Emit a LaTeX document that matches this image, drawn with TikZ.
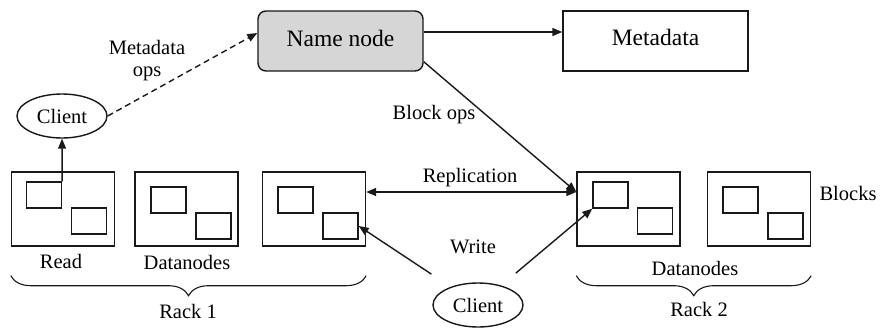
\documentclass[tikz,border=0pt]{standalone}
\usepackage{fontspec}
\setmainfont{Liberation Serif}
\usetikzlibrary{shapes.geometric,arrows.meta,decorations.pathreplacing}
\begin{document}
\begin{tikzpicture}[x=1pt,y=-1pt,
  line width=1.4pt,
  every node/.style={font=\fontsize{20.5}{22}\selectfont, text=black},
  bigbox/.style={draw=black!90, rectangle, minimum width=#1, minimum height=60pt, inner sep=0pt, font=\fontsize{23.5}{25}\selectfont},
  dnbox/.style={draw=black!90, rectangle, minimum width=103pt, minimum height=74pt, inner sep=0pt},
  blk/.style={draw=black!90, rectangle, minimum width=35pt, minimum height=26pt, inner sep=0pt},
  client/.style={draw=black!90, ellipse, minimum width=90pt, minimum height=44pt, inner sep=0pt},
  lbl/.style={inner sep=0pt},
  arr/.style={draw=black!90, -{Triangle[length=10pt,width=8pt]}},
  arrtwo/.style={draw=black!90, {Triangle[length=10pt,width=8pt]}-{Triangle[length=10pt,width=8pt]}},
  bracestyle/.style={draw=black!90, line width=1.1pt, decorate, decoration={brace, mirror, amplitude=20pt}}
]
\useasboundingbox (0,0) rectangle (881,327);

% top nodes
\node[bigbox=165pt, rounded corners=8pt, fill=black!16] (nn) at (340.5,41) {\raisebox{6pt}{Name node}};
\node[bigbox=185pt] (md) at (655.5,41) {\raisebox{8pt}{Metadata}};

% clients
\node[client] (cl1) at (62,116) {Client};
\node[client] (cl2) at (478,305) {Client};

% datanodes
\node[dnbox] (dn1) at (63,209) {};
\node[dnbox] (dn2) at (186.5,209) {};
\node[dnbox] (dn3) at (314,209) {};
\node[dnbox] (dn4) at (628.5,209) {};
\node[dnbox] (dn5) at (759,209) {};

% blocks
\node[blk] (dn1a) at (44,195) {};
\node[blk] (dn1b) at (89,221) {};
\node[blk] (dn2a) at (168.5,200) {};
\node[blk] (dn2b) at (213.5,226) {};
\node[blk] (dn3a) at (295.5,200) {};
\node[blk] (dn3b) at (340.5,226) {};
\node[blk] (dn4a) at (610.5,195) {};
\node[blk] (dn4b) at (655,221) {};
\node[blk] (dn5a) at (740.5,200) {};
\node[blk] (dn5b) at (785.5,226) {};

% labels
\node[lbl, align=center] (lmo) at (147,61) {Metadata\\ops};
\node[lbl] (lbo) at (434,115) {Block ops};
\node[lbl] (lrep) at (470,178) {Replication};
\node[lbl] (lwr) at (473,247) {Write};
\node[lbl] (lrd) at (61,261) {Read};
\node[lbl] (ldn1) at (187,262) {Datanodes};
\node[lbl] (ldn2) at (695,268) {Datanodes};
\node[lbl] (lblk) at (848,193) {Blocks};
\node[lbl] (lr1) at (188,311) {Rack 1};
\node[lbl] (lr2) at (699,309) {Rack 2};

% connectors
\draw[arr] ([yshift=9pt]nn.east) -- ([yshift=9pt]md.west);
\draw[arr, dash pattern=on 6pt off 4pt] (cl1.east) -- ([yshift=8pt]nn.west);
\draw[arr] (dn1a.north east) -- (cl1.south);
\draw[arr] ([yshift=10pt]nn.south east) -- ([yshift=17pt]dn4.west);
\draw[arrtwo] ([yshift=17pt]dn3.east) -- ([yshift=17pt]dn4.west);
\draw[arr, shorten <=23pt] (cl2) -- (dn3b.east);
\draw[arr, shorten <=19pt] (cl2) -- (dn4a.south west);

% braces
\draw[bracestyle] ([yshift=-29pt]dn1.south west) -- ([yshift=-29pt]dn3.south east);
\draw[bracestyle] ([yshift=-29pt]dn4.south west) -- ([yshift=-29pt]dn5.south east);
\end{tikzpicture}
\end{document}
